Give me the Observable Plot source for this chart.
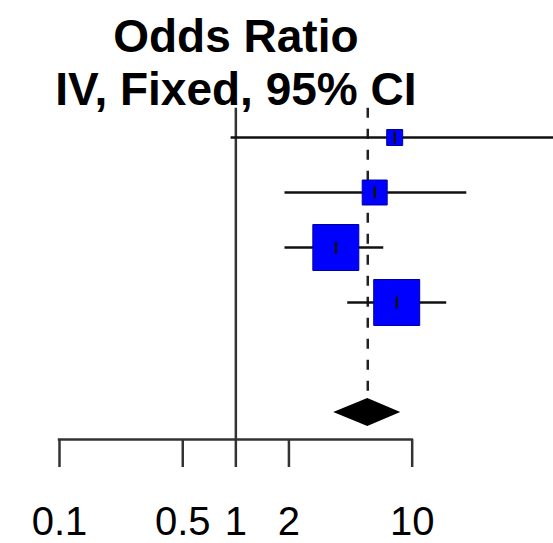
<!DOCTYPE html>
<html><head><meta charset="utf-8">
<script src="https://cdn.jsdelivr.net/npm/d3@7"></script>
<script src="https://cdn.jsdelivr.net/npm/@observablehq/plot@0.6"></script>
<style>html,body{margin:0;padding:0;background:#fff;overflow:hidden}</style>
</head><body><div id="chart"></div>
<script>
// Study rows (top to bottom) and their estimates
const rows = [0, 1, 2, 3];
const oddsRatio = [7.96, 6.13, 3.69, 8.17];
const ciLower = [0.94, 1.90, 1.90, 4.31];
const ciUpper = [80, 20.4, 6.90, 15.7];
const weights = [5.0, 12.2, 41.4, 41.4];
// Pooled (fixed effect) estimate
const pooledRow = 5;
const pooledOR = 5.60, pooledLower = 3.59, pooledUpper = 8.61;
// Axis
const tickValues = [0.1, 0.5, 1, 2, 10];
const tickLabels = ["0.1", "0.5", "1", "2", "10"];
const titleLines = ["Odds Ratio", "IV, Fixed, 95% CI"];

const studies = rows.map((r, i) => ({row: r, or: oddsRatio[i], lo: ciLower[i], hi: ciUpper[i], w: weights[i]}));
const labelData = tickValues.map((v, i) => ({v, label: tickLabels[i]}));
const diamondHalf = 0.255;
const diamond = [
  {x: pooledLower, y1: pooledRow, y2: pooledRow},
  {x: pooledOR, y1: pooledRow - diamondHalf, y2: pooledRow + diamondHalf},
  {x: pooledUpper, y1: pooledRow, y2: pooledRow}
];
const topRow = -0.53;
const yDomain = [-2.491, 5.491];

const vbar = {draw(ctx, size) { const h = Math.sqrt(size / Math.PI); ctx.moveTo(0, -h); ctx.lineTo(0, h); }};

const chart = Plot.plot({
  width: 553, height: 543,
  marginLeft: 59, marginRight: 0, marginTop: 0, marginBottom: 104,
  style: {fontFamily: "'Liberation Sans', Arial, Helvetica, sans-serif", background: "white"},
  x: {type: "log", domain: [0.1, 63.3], axis: null},
  y: {domain: yDomain, reverse: true, axis: null},
  r: {type: "sqrt", domain: [0, d3.max(weights)], range: [0, 25.95]},
  marks: [
    Plot.ruleX([1], {y1: topRow, y2: yDomain[1], stroke: "#333", strokeWidth: 2.5}),
    Plot.ruleX([pooledOR], {y1: topRow, y2: pooledRow - diamondHalf, stroke: "#222", strokeWidth: 2.5, strokeDasharray: "10,11"}),
    Plot.ruleY(studies, {y: "row", x1: "lo", x2: "hi", stroke: "#111", strokeWidth: 2.5, clip: true}),
    Plot.dot(studies, {x: "or", y: "row", r: "w", symbol: "square", fill: "#0000ff", stroke: "#0000a0", strokeWidth: 1}),
    Plot.dot(studies, {x: "or", y: "row", r: 6, symbol: vbar, stroke: "#111", strokeWidth: 2.5, fill: "none"}),
    Plot.areaY(diamond, {x: "x", y1: "y1", y2: "y2", fill: "black"}),
    Plot.ruleY([yDomain[1]], {x1: tickValues[0], x2: tickValues[tickValues.length - 1], stroke: "#333", strokeWidth: 2.5, strokeLinecap: "square"}),
    Plot.axisX({ticks: tickValues, tickSize: 28, stroke: "#333", strokeWidth: 2.5, text: null}),
    Plot.text(labelData, {x: "v", text: "label", frameAnchor: "bottom", lineAnchor: "bottom", dy: 95, fontSize: 40, fill: "black"}),
    Plot.text([titleLines.join("\n")], {x: () => 1, frameAnchor: "top", lineAnchor: "top", dy: 14, fontSize: 46, fontWeight: "bold", lineHeight: 1.152, fill: "black"})
  ]
});
document.getElementById("chart").appendChild(chart);
</script>
</body></html>
